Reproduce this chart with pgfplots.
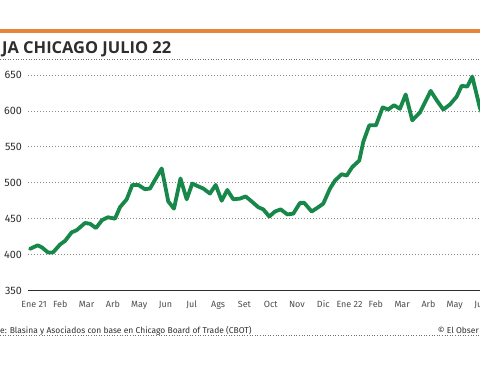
\documentclass[border=0pt]{standalone}
\usepackage{pgfplots}
\pgfplotsset{compat=1.18}
\usepackage{fontspec}
\setmainfont{Fira Sans}
\newfontfamily\titlefont{Open Sans}
\definecolor{lineGreen}{HTML}{17884A}
\definecolor{barOrange}{HTML}{E5853A}
\definecolor{txt}{HTML}{2E2E2E}
\definecolor{gridGray}{HTML}{8A8A8A}
\begin{document}
\begin{tikzpicture}[x=1bp,y=1bp]
\useasboundingbox (0,0) rectangle (480,365);
\clip (0,0) rectangle (480,365);
\fill[white] (0,0) rectangle (480,365);
% orange bar
\fill[barOrange] (0,332) rectangle (480,336);
% title
\node[anchor=base west, inner sep=0pt, text=txt, font=\titlefont\bfseries\fontsize{16.5}{16.5}\selectfont] at (2,312) {JA CHICAGO JULIO 22};
\draw[gridGray!80!black, line width=0.8bp, dash pattern=on 1bp off 1.6bp] (0,306) -- (480,306);
% footer
\node[anchor=base west, inner sep=0pt, text=txt, font=\fontsize{8.5}{8.5}\selectfont] at (0,32) {e: Blasina y Asociados con base en Chicago Board of Trade (CBOT)};
\node[anchor=base east, inner sep=0pt, text=txt, font=\fontsize{8.5}{8.5}\selectfont] at (479,32) {© El Obser};
\draw[gridGray!80!black, line width=0.8bp, dash pattern=on 1bp off 1.6bp] (0,29.5) -- (480,29.5);
\begin{axis}[
  at={(28bp,74.5bp)}, anchor=south west,
  scale only axis, width=466.2bp, height=222.6bp,
  xmin=-0.228, xmax=17.5, ymin=350, ymax=660,
  axis line style={draw=none},
  major tick length=0pt,
  ytick={400,450,500,550,600,650},
  extra y ticks={350},
  extra y tick style={grid style={solid, draw=txt, line width=1.4bp}},
  ymajorgrids,
  grid style={draw=gridGray, line width=0.9bp, dash pattern=on 1bp off 2bp},
  xtick={0,...,17},
  xticklabels={Ene 21,Feb,Mar,Arb,May,Jun,Jul,Ags,Set,Oct,Nov,Dic,Ene 22,Feb,Mar,Arb,May,Jun},
  /pgf/number format/assume math mode=true,
  /pgf/number format/1000 sep={},
  yticklabel style={anchor=east, inner sep=0pt, xshift=-6bp, text=txt, font=\fontsize{10.8}{10.8}\selectfont},
  xticklabel style={anchor=base, inner sep=0pt, yshift=-16.5bp, text=txt!85!white, font=\fontsize{9}{9}\selectfont},
]
\addplot[color=lineGreen, line width=3.8bp, line join=round, line cap=round] table {
x y
-0.152 408
0.141 413
0.304 410
0.532 403
0.722 403
0.989 414
1.179 419
1.433 431
1.624 434
1.939 444
2.129 443
2.357 437
2.586 448
2.814 452
3.080 450
3.270 466
3.525 477
3.738 497
3.966 497
4.221 491
4.411 492
4.856 520
5.106 474
5.323 464
5.570 506
5.806 477
6.019 499
6.247 495
6.437 492
6.692 485
6.909 497
7.137 475
7.350 490
7.578 477
7.833 478
8.049 481
8.278 474
8.529 466
8.719 463
8.947 453
9.163 460
9.380 463
9.631 456
9.859 457
10.114 472
10.278 472
10.559 460
10.810 466
11.000 471
11.255 492
11.445 503
11.700 512
11.890 510
12.103 522
12.369 531
12.521 557
12.749 580
13.004 580
13.259 605
13.471 602
13.688 608
13.916 603
14.133 623
14.384 587
14.677 598
15.084 628
15.312 615
15.563 602
15.817 609
16.072 620
16.262 635
16.475 634
16.665 648
16.958 604
17.186 585
};
\end{axis}
\end{tikzpicture}
\end{document}
